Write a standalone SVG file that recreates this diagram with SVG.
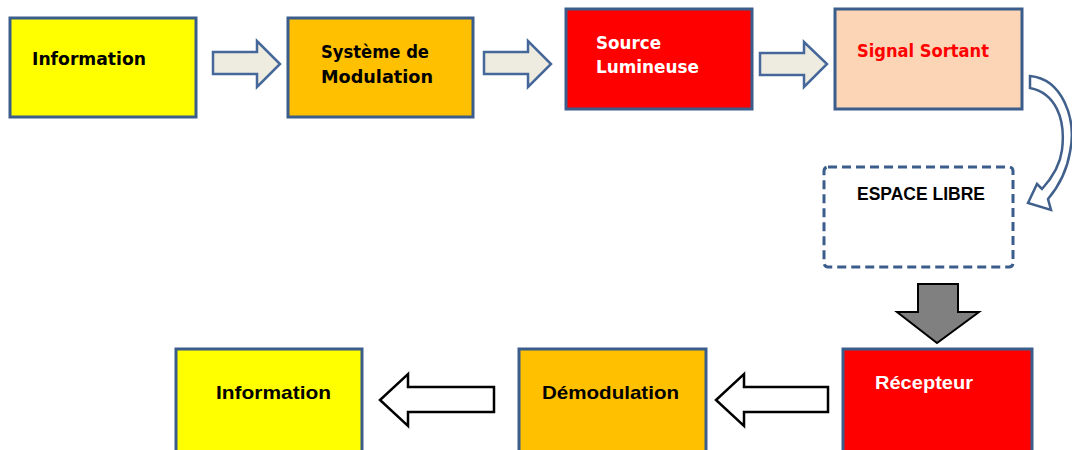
<svg xmlns="http://www.w3.org/2000/svg" width="1072" height="450" viewBox="0 0 1072 450">
<style>
.box{stroke:#3a5d8b;stroke-width:3}
.t{font-family:"DejaVu Sans","Liberation Sans",sans-serif;font-weight:bold;font-size:17px;fill:#000}
.c{font-family:"Liberation Sans",Arial,sans-serif;font-weight:bold;font-size:19px;fill:#000}
.blk{fill:#eeece1;stroke:#46679a;stroke-width:2.5;stroke-linejoin:miter}
.out{fill:#ffffff;stroke:#000;stroke-width:2.5;stroke-linejoin:miter}
</style>
<rect width="1072" height="450" fill="#ffffff"/>
<g id="connectors">
<path class="blk" d="M213,52 H257 V41 L280,64 L257,87 V74 H213 Z"/>
<path class="blk" d="M484,52 H528 V41 L551,64 L528,87 V74 H484 Z"/>
<path class="blk" d="M760,53 H804 V42 L827,64 L804,87 V75 H760 Z"/>
<path fill="#ffffff" stroke="#41618c" stroke-width="2.5" stroke-linejoin="miter" d="M1030,76 C1062,79 1077,118 1070,152 C1067,170 1059,186 1048,199 L1051,210 L1028,203 L1037,184 L1042,189 C1052,178 1060,166 1062,150 C1066,118 1055,93 1030,88 Z"/>
<path fill="#808080" stroke="#000" stroke-width="2" d="M918,284 H958 V312 H979 L937,343 L897,312 H918 Z"/>
<path class="out" d="M494,387 H408 V374 L380,400 L408,426 V412 H494 Z"/>
<path class="out" d="M828,387 H744 V374 L716,400 L744,426 V412 H828 Z"/>
</g>
<g id="n_information1">
<rect class="box" x="10" y="18" width="186" height="99" fill="#ffff00"/>
<text class="t" x="32" y="65" textLength="114" lengthAdjust="spacingAndGlyphs">Information</text>
</g>
<g id="n_modulation">
<rect class="box" x="288" y="18" width="185" height="99" fill="#ffc000"/>
<text class="t" x="321" y="58" textLength="108" lengthAdjust="spacingAndGlyphs">Système de</text>
<text class="t" x="321" y="83" textLength="112" lengthAdjust="spacingAndGlyphs">Modulation</text>
</g>
<g id="n_source">
<rect class="box" x="566" y="9" width="186" height="100" fill="#ff0000"/>
<text class="t" x="596" y="49" style="fill:#ffffff" textLength="65" lengthAdjust="spacingAndGlyphs">Source</text>
<text class="t" x="596" y="73" style="fill:#ffffff" textLength="103" lengthAdjust="spacingAndGlyphs">Lumineuse</text>
</g>
<g id="n_signal">
<rect class="box" x="835" y="9" width="187" height="100" fill="#fbd5b5"/>
<text class="t" x="857" y="57" style="fill:#ff0000" textLength="132" lengthAdjust="spacingAndGlyphs">Signal Sortant</text>
</g>
<g id="n_espace">
<rect x="824" y="167" width="189" height="100" rx="4" fill="#ffffff" stroke="#3a5d8b" stroke-width="3" stroke-dasharray="9,5"/>
<text class="c" x="857" y="200" style="font-size:18.5px" textLength="128" lengthAdjust="spacingAndGlyphs">ESPACE LIBRE</text>
</g>
<g id="n_recepteur">
<rect class="box" x="843" y="349" width="189" height="110" fill="#ff0000"/>
<text class="c" x="875" y="389" style="fill:#ffffff" textLength="98" lengthAdjust="spacingAndGlyphs">Récepteur</text>
</g>
<g id="n_demodulation">
<rect class="box" x="519" y="349" width="187" height="110" fill="#ffc000"/>
<text class="c" x="542" y="399" textLength="137" lengthAdjust="spacingAndGlyphs">Démodulation</text>
</g>
<g id="n_information2">
<rect class="box" x="176" y="349" width="186" height="110" fill="#ffff00"/>
<text class="c" x="216" y="399" textLength="115" lengthAdjust="spacingAndGlyphs">Information</text>
</g>
</svg>
